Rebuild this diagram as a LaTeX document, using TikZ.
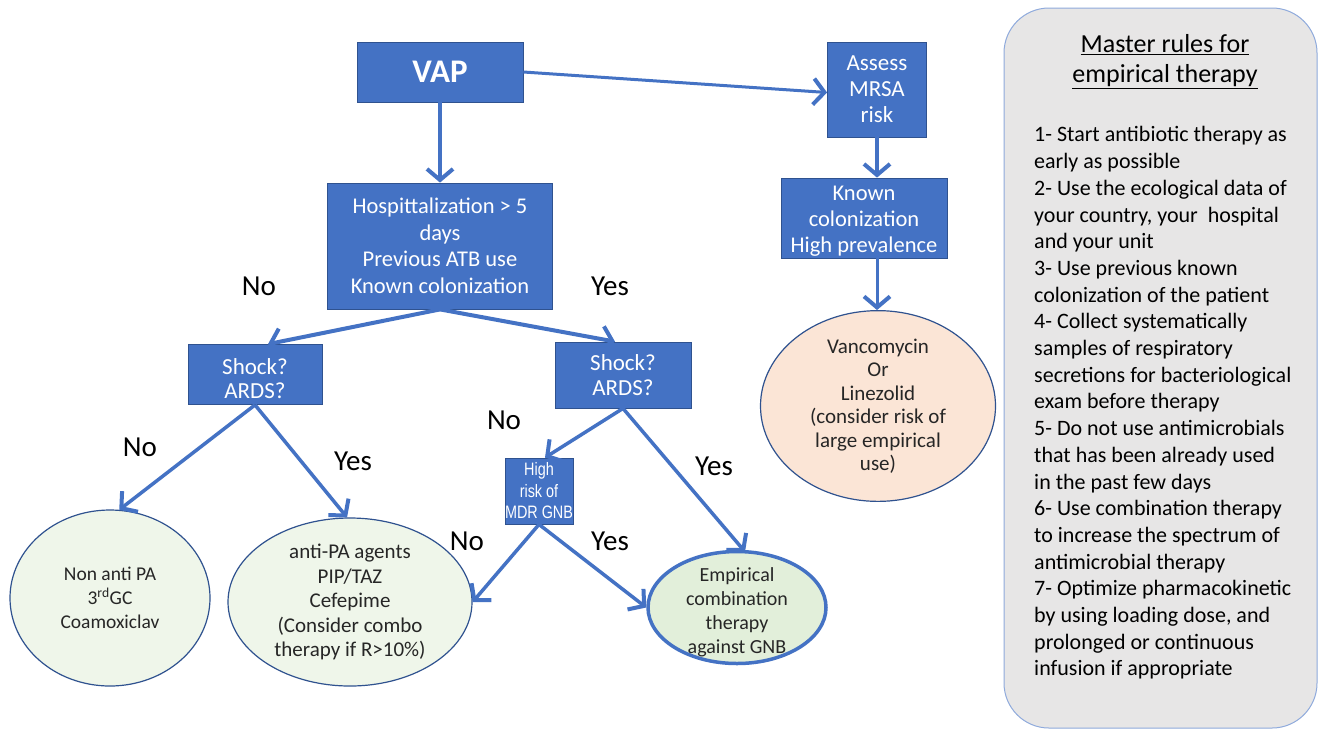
\documentclass[tikz,border=0pt]{standalone}
\usepackage{fontspec}
\setmainfont{Carlito}
\newfontfamily\rulesfont{Carlito}
\newfontfamily\narrowfont[FakeStretch=0.8]{Liberation Sans}
\usetikzlibrary{arrows.meta,shapes.geometric,calc}
\definecolor{boxblue}{HTML}{4472C4}
\definecolor{boxedge}{HTML}{2F528F}
\definecolor{lightgreen}{HTML}{EFF6EA}
\definecolor{midgreen}{HTML}{E2EFDA}
\definecolor{peach}{HTML}{FBE5D6}
\definecolor{panelgray}{HTML}{E7E6E6}
\definecolor{paneledge}{HTML}{8FAADC}
\tikzset{
  bluebox/.style={draw=boxedge, fill=boxblue, text=white, align=center, inner sep=0pt, line width=0.8pt},
  boxtext/.style={text=white, align=center, inner sep=0pt},
  oval/.style={ellipse, draw=boxedge, fill=lightgreen, align=center, inner sep=0pt, line width=1.2pt, text=black!85},
  arr/.style={draw=boxblue, line width=4pt, -{Straight Barb[length=11pt,width=26pt,line width=4pt]}},
  lbl/.style={font=\fontsize{29}{32}\selectfont, text=black}
}
\begin{document}
\begin{tikzpicture}[x=1pt,y=-1pt]
\useasboundingbox (0,0) rectangle (1319,732);
\fill[white] (0,0) rectangle (1319,732);

% right panel
\node[draw=paneledge, fill=panelgray, rounded corners=45pt, line width=1pt, minimum width=313pt, minimum height=720pt, inner sep=0pt] (panel) at (1160.5,368) {};
\node[font=\rulesfont\fontsize{26}{30}\selectfont, align=center] (title) at (1165,62) {\underline{Master rules for}\\\underline{empirical therapy}};
\node[font=\rulesfont\fontsize{22}{26.7}\selectfont, align=left, anchor=north west, inner sep=0pt] (rules) at (1034,126.5) {1- Start antibiotic therapy as\\early as possible\\2- Use the ecological data of\\your country, your\ \ hospital\\and your unit\\3- Use previous known\\colonization of the patient\\4- Collect systematically\\samples of respiratory\\secretions for bacteriological\\exam before therapy\\5- Do not use antimicrobials\\that has been already used\\in the past few days\\6- Use combination therapy\\to increase the spectrum of\\antimicrobial therapy\\7- Optimize pharmacokinetic\\by using loading dose, and\\prolonged or continuous\\infusion if appropriate};

% boxes
\node[bluebox, minimum width=166pt, minimum height=60pt, font=\fontsize{33}{38}\selectfont\bfseries] (vap) at (440,72) {VAP};
\node[bluebox, minimum width=225pt, minimum height=126pt, font=\fontsize{22.5}{26.5}\selectfont] (hosp) at (440,246) {Hospittalization > 5\\days\\Previous ATB use\\Known colonization};
\node[bluebox, minimum width=99pt, minimum height=95pt, font=\fontsize{23}{26}\selectfont] (assess) at (877,89.5) {Assess\\MRSA\\risk};
\node[bluebox, minimum width=166pt, minimum height=80pt] (known) at (864,218) {};
\node[boxtext, font=\fontsize{22.5}{26}\selectfont] (knownt) at (864,221) {Known\\colonization\\High prevalence};
\node[bluebox, minimum width=134pt, minimum height=60pt] (shockl) at (255,374.5) {};
\node[boxtext, font=\fontsize{23}{23.5}\selectfont] (shocklt) at (255,378.5) {Shock?\\ARDS?};
\node[bluebox, minimum width=136pt, minimum height=66pt, font=\fontsize{23}{25}\selectfont] (shockr) at (623,375) {Shock?\\ARDS?};
\node[bluebox, minimum width=66pt, minimum height=66pt, font=\narrowfont\fontsize{18}{21.5}\selectfont] (risk) at (539,491) {High\\risk of\\MDR GNB};

% ellipses
\node[oval, minimum width=200pt, minimum height=176pt, font=\fontsize{19.5}{24}\selectfont] (nonpa) at (110,598) {Non anti PA\\3\textsuperscript{rd}GC\\Coamoxiclav};
\node[oval, minimum width=244pt, minimum height=168pt, font=\fontsize{21}{24.5}\selectfont] (antipa) at (350,602) {anti-PA agents\\PIP/TAZ\\Cefepime\\(Consider combo\\therapy if R>10\%)};
\node[oval, fill=midgreen, draw=boxblue, line width=3.5pt, minimum width=178pt, minimum height=112pt] (emp) at (737,607.5) {};
\node[align=center, inner sep=0pt, text=black!85, font=\fontsize{20}{24}\selectfont] (empt) at (737,612) {Empirical\\combination\\therapy\\against GNB};
\node[oval, fill=peach, minimum width=235pt, minimum height=155pt, font=\fontsize{21}{23.5}\selectfont] (vanco) at (878,406) {Vancomycin\\Or\\Linezolid\\(consider risk of\\large empirical\\use)};

% arrows
\draw[arr] (vap.south) -- (hosp.north);
\draw[arr, line width=3pt] (vap.east) -- ($(assess.west)+(0,3)$);
\draw[arr] (assess.south) -- (assess.south |- known.north);
\draw[arr, line width=3pt] (assess.south |- known.south) -- (assess.south |- vanco.north);
\draw[arr] (hosp.south) -- ($(shockl.north)+(13,0)$);
\draw[arr] (hosp.south) -- ($(shockr.north)+(-8,0)$);
\draw[arr, line width=3.5pt] (shockl.south) -- (nonpa.84);
\draw[arr, line width=3.5pt] (shockl.south) -- (antipa.92);
\draw[arr, line width=3.5pt] (shockr.south) -- ($(risk.north)+(6,0)$);
\draw[arr, line width=3.5pt] (shockr.south) -- ($(emp.north)+(8,2)$);
\draw[arr, line width=3.5pt] (risk.south) -- (antipa.east);
\draw[arr, line width=3.5pt] (risk.south) -- (emp.west);

% labels
\node[lbl] (l1) at (259,286) {No};
\node[lbl] (l2) at (610,286) {Yes};
\node[lbl] (l3) at (140,447) {No};
\node[lbl] (l4) at (353,461) {Yes};
\node[lbl] (l5) at (504,420) {No};
\node[lbl] (l6) at (714,466) {Yes};
\node[lbl] (l7) at (467,541) {No};
\node[lbl] (l8) at (610,541) {Yes};
\end{tikzpicture}
\end{document}
